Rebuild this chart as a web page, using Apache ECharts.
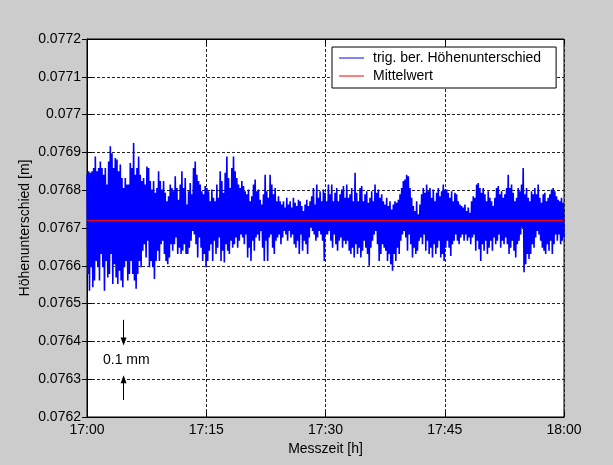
<!DOCTYPE html>
<html>
<head>
<meta charset="utf-8">
<script src="https://cdn.jsdelivr.net/npm/echarts@6/dist/echarts.min.js"></script>
<style>
html,body{margin:0;padding:0;background:#cccccc;}
#chart{width:613px;height:465px;}
</style>
</head>
<body>
<div id="chart"></div>
<script>
// ---- data ----
// tick labels of the time axis (minutes after 17:00 -> label)
const xTickMinutes = [0, 15, 30, 45, 60];
const xTickLabels = ["17:00", "17:15", "17:30", "17:45", "18:00"];
const seriesNames = ["trig. ber. Höhenunterschied", "Mittelwert"];

// Upper extremes of the measured height difference [m], 17:00 -> 18:00
const hiA = [0.076841,0.07685,0.076846,0.07685,0.076859,0.076889,0.07685,0.076859,0.076876,0.076859,0.076841,0.076859,0.076815,0.076876,0.076916,0.076898,0.076859,0.076885,0.076881,0.07685,0.076868,0.076832,0.076806,0.076832,0.076815,0.076815,0.076872,0.076859,0.076925,0.076841,0.076859,0.076889,0.076841,0.076824,0.076832,0.076815,0.076863,0.076859,0.076824,0.076802,0.076824,0.076793,0.076806,0.07685,0.076824,0.076802,0.076824,0.076793,0.076771,0.076784,0.076815,0.076806,0.076797,0.076837,0.076806,0.076775,0.076815,0.07685,0.076806,0.076832,0.076762,0.076797,0.076819,0.076789,0.076859,0.076876,0.076841,0.076824,0.076815,0.076797,0.076789,0.076811];
const hiB = [0.076806,0.076797,0.076771,0.076802,0.07678,0.076771,0.076815,0.07678,0.07685,0.076824,0.076793,0.076846,0.076889,0.076832,0.076806,0.076859,0.076889,0.07685,0.076832,0.076815,0.076806,0.076824,0.076811,0.076797,0.076789,0.076802,0.076771,0.076784,0.076815,0.076828,0.076797,0.076802,0.076775,0.076762,0.076789,0.076841,0.076797,0.07678,0.076841,0.076815,0.076789,0.076806,0.076771,0.076784,0.076771,0.076762,0.076771,0.076754,0.07678,0.076762,0.076771,0.076754,0.07678,0.076767,0.076758,0.076775,0.076771,0.076758,0.076745,0.076762,0.076775,0.076758,0.076771,0.076784,0.076806,0.076762,0.076815,0.07678,0.076797,0.076771,0.076802,0.076793];
const hiC = [0.076771,0.076815,0.076789,0.076815,0.076771,0.076793,0.076806,0.076771,0.076789,0.076802,0.076811,0.07678,0.076815,0.07678,0.076789,0.076806,0.076771,0.076846,0.076793,0.076771,0.076806,0.076811,0.076771,0.076789,0.076797,0.076767,0.07678,0.076797,0.076771,0.076815,0.076793,0.076802,0.07678,0.076789,0.076771,0.076762,0.07678,0.076758,0.076771,0.076749,0.076762,0.076771,0.076767,0.076775,0.076789,0.076806,0.076824,0.076828,0.076841,0.076837,0.076806,0.07678,0.076758,0.076745,0.076771,0.076736,0.076762,0.076789,0.076806,0.076793,0.076815,0.076797,0.076806,0.07678,0.076802,0.076771,0.076793,0.076806,0.076784,0.076797,0.076815,0.076802];
const hiD = [0.076802,0.076793,0.07678,0.076797,0.076771,0.076793,0.076789,0.076771,0.076762,0.076758,0.076754,0.076762,0.076745,0.076754,0.07674,0.076771,0.076784,0.07678,0.076815,0.076819,0.076806,0.076793,0.076806,0.076789,0.076771,0.076797,0.07678,0.076771,0.076758,0.07678,0.076806,0.076811,0.076789,0.076797,0.07678,0.076789,0.076806,0.076841,0.076806,0.076815,0.076793,0.076771,0.07678,0.076806,0.076797,0.076815,0.076859,0.076789,0.076806,0.07678,0.076771,0.076797,0.076789,0.076806,0.076789,0.076815,0.07678,0.076767,0.076789,0.076793,0.076771,0.07678,0.076789,0.076802,0.076806,0.076797,0.076784,0.076775,0.076771,0.07678,0.076767];

// Lower extremes [m]
const loA = [0.076578,0.076534,0.076596,0.076543,0.076561,0.076613,0.076596,0.076561,0.076631,0.076596,0.076534,0.076613,0.076569,0.076578,0.076631,0.076552,0.076604,0.076569,0.076552,0.076587,0.076561,0.076543,0.076596,0.076613,0.076561,0.076578,0.076613,0.076578,0.076561,0.076539,0.076578,0.076613,0.076596,0.07664,0.076657,0.076622,0.076666,0.076596,0.076613,0.076596,0.076565,0.076613,0.07664,0.076613,0.076657,0.076666,0.076631,0.076613,0.076604,0.076622,0.076657,0.07664,0.076657,0.076675,0.076631,0.076648,0.076631,0.07664,0.076657,0.076631,0.076631,0.076648,0.076666,0.076692,0.076683,0.076657,0.076622,0.076675,0.076648,0.076613,0.076631,0.076596];
const loB = [0.076613,0.07664,0.076657,0.076613,0.076666,0.076631,0.076648,0.076675,0.076613,0.07664,0.076609,0.076657,0.07664,0.076631,0.076666,0.076648,0.076657,0.076675,0.076648,0.076666,0.076683,0.076675,0.076657,0.076683,0.076622,0.076648,0.076613,0.076666,0.07664,0.076675,0.076683,0.076666,0.076692,0.076648,0.076613,0.076666,0.076613,0.076675,0.076683,0.076648,0.076631,0.076666,0.076675,0.076683,0.076657,0.076675,0.076692,0.076683,0.076666,0.076692,0.076675,0.076683,0.076657,0.076648,0.076666,0.076631,0.076683,0.07664,0.076666,0.076657,0.076631,0.076675,0.076701,0.076692,0.076683,0.076666,0.076675,0.076692,0.076683,0.076666,0.076613,0.076683];
const loC = [0.076683,0.076692,0.076666,0.076648,0.076683,0.076657,0.07664,0.076666,0.076675,0.076648,0.076666,0.076657,0.076666,0.07664,0.076631,0.076648,0.076622,0.076657,0.076631,0.076648,0.076622,0.07664,0.076666,0.076648,0.076631,0.0766,0.076648,0.076666,0.076683,0.076692,0.076657,0.076613,0.076631,0.076657,0.076648,0.07664,0.076613,0.076631,0.076604,0.076587,0.076631,0.076613,0.076648,0.076631,0.076666,0.076683,0.076692,0.076675,0.07664,0.076683,0.076657,0.076622,0.076648,0.076631,0.07664,0.076666,0.076675,0.076657,0.076683,0.07664,0.076666,0.076631,0.076648,0.076622,0.076657,0.076631,0.076648,0.076666,0.076622,0.076631,0.076613,0.076648];
const loD = [0.076666,0.076648,0.076626,0.076657,0.076666,0.076683,0.076666,0.076657,0.076675,0.076683,0.076666,0.076683,0.076666,0.076675,0.076657,0.076675,0.076683,0.07664,0.076666,0.076644,0.076613,0.076657,0.07664,0.076666,0.076631,0.076648,0.076666,0.07664,0.076675,0.076657,0.076666,0.076683,0.076648,0.076666,0.076657,0.076675,0.076657,0.076631,0.076648,0.076666,0.07664,0.076622,0.076657,0.076666,0.076683,0.076701,0.076583,0.076604,0.076631,0.076618,0.076631,0.076657,0.076648,0.076675,0.076692,0.076683,0.076666,0.076648,0.07664,0.076631,0.076657,0.07664,0.076666,0.076631,0.076657,0.076683,0.076666,0.076683,0.076657,0.076666,0.076675];

const meanValue = 0.07672;   // Mittelwert [m]
const durationMin = 60;      // 17:00 .. 18:00

// ---- build series ----
const hi = hiA.concat(hiB, hiC, hiD);
const lo = loA.concat(loB, loC, loD);
const nPts = hi.length * 2;
const dt = durationMin / (nPts - 1);
const measured = [];
for (let i = 0; i < hi.length; i++) {
  measured.push([(2 * i) * dt, hi[i]]);
  measured.push([(2 * i + 1) * dt, lo[i]]);
}
const meanData = [[0, meanValue], [durationMin, meanValue]];

const FONT = 'Liberation Sans, Arial, sans-serif';
const fmtY = v => parseFloat(v.toFixed(4)).toString();
const fmtX = v => { const i = xTickMinutes.indexOf(Math.round(v)); return i >= 0 ? xTickLabels[i] : ''; };

const chart = echarts.init(document.getElementById('chart'), null, {renderer: 'canvas'});
chart.setOption({
  animation: false,
  backgroundColor: '#cccccc',
  textStyle: {fontFamily: FONT},
  grid: {left: 87, right: 49, top: 39, bottom: 48, show: true, backgroundColor: '#ffffff', borderColor: '#000', borderWidth: 1},
  legend: {
    orient: 'vertical', left: 332, top: 47,
    data: [{name: seriesNames[0], icon: 'rect'}, {name: seriesNames[1], icon: 'rect'}],
    itemWidth: 25, itemHeight: 1, itemGap: 0,
    backgroundColor: '#fff', borderColor: '#000', borderWidth: 1, borderRadius: 0,
    padding: [2, 15, 3, 7],
    textStyle: {fontFamily: FONT, fontSize: 14, color: '#000', lineHeight: 18, padding: [0, 0, 0, 4]},
    selectedMode: false
  },
  xAxis: [{
    type: 'value', min: 0, max: durationMin, interval: 15, position: 'bottom',
    axisLine: {show: true, lineStyle: {color: '#000', width: 1}},
    axisTick: {show: true, inside: true, length: 5, lineStyle: {color: '#000'}},
    axisLabel: {formatter: fmtX, color: '#000', fontSize: 14, fontFamily: FONT, margin: 6},
    splitLine: {show: true, lineStyle: {color: '#222', type: [3, 2], width: 1}},
    name: 'Messzeit [h]', nameLocation: 'middle', nameGap: 25, nameMoveOverlap: false,
    nameTextStyle: {color: '#000', fontSize: 14, fontFamily: FONT}
  }, {
    type: 'value', min: 0, max: durationMin, interval: 15, position: 'top',
    axisLine: {show: true, lineStyle: {color: '#000'}},
    axisTick: {show: true, inside: true, length: 5, lineStyle: {color: '#000'}},
    axisLabel: {show: false}, splitLine: {show: false}
  }],
  yAxis: [{
    type: 'value', min: 0.0762, max: 0.0772, interval: 0.0001, position: 'left',
    axisLine: {show: true, lineStyle: {color: '#000', width: 1}},
    axisTick: {show: true, inside: true, length: 5, lineStyle: {color: '#000'}},
    axisLabel: {formatter: fmtY, color: '#000', fontSize: 14, fontFamily: FONT, margin: 6},
    splitLine: {show: true, lineStyle: {color: '#222', type: [3, 2], width: 1}},
    name: 'Höhenunterschied [m]', nameLocation: 'middle', nameGap: 55, nameRotate: 90, nameMoveOverlap: false,
    nameTextStyle: {color: '#000', fontSize: 14, fontFamily: FONT}
  }, {
    type: 'value', min: 0.0762, max: 0.0772, interval: 0.0001, position: 'right',
    axisLine: {show: true, lineStyle: {color: '#000'}},
    axisTick: {show: true, inside: true, length: 5, lineStyle: {color: '#000'}},
    axisLabel: {show: false}, splitLine: {show: false}
  }],
  series: [{
    name: seriesNames[0], type: 'line', data: measured, showSymbol: false, symbol: 'none',
    lineStyle: {color: '#0000ff', width: 1.6}, itemStyle: {color: '#0000ff'},
    sampling: null, silent: true, z: 2
  }, {
    name: seriesNames[1], type: 'line', data: meanData, showSymbol: false, symbol: 'none',
    lineStyle: {color: '#ff0000', width: 1}, itemStyle: {color: '#ff0000'}, silent: true, z: 3,
    markLine: {
      silent: true, symbol: ['none', 'triangle'], symbolSize: [6, 8],
      lineStyle: {color: '#000', width: 1, type: 'solid'}, label: {show: false},
      itemStyle: {color: '#000'},
      data: [
        [{coord: [4.6, 0.076457]}, {coord: [4.6, 0.0764]}],
        [{coord: [4.6, 0.076245]}, {coord: [4.6, 0.0763]}]
      ]
    }
  }],
  graphic: [{
    type: 'text', left: 103, top: 353,
    style: {text: '0.1 mm', fill: '#000', font: '14px ' + FONT}
  }]
});
</script>
</body>
</html>
